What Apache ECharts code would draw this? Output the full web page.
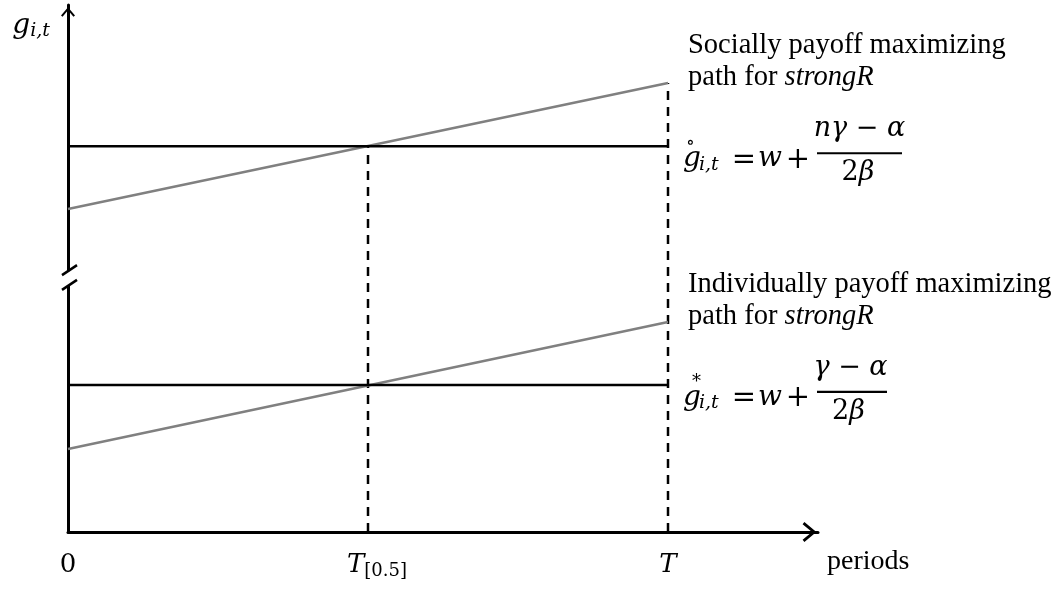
<!DOCTYPE html>
<html><head><meta charset="utf-8">
<script src="https://cdn.jsdelivr.net/npm/echarts@6/dist/echarts.min.js"></script>
<style>html,body{margin:0;padding:0;background:#fff}#c{width:1059px;height:590px}</style>
</head><body><div id="c"></div>
<script>
// ---- data ----
const periodTicks = [0, 0.5, 1];
const periodLabels = ['0', 'T_[0.5]', 'T'];
const pathPeriods = [0, 1];
const socialLevel = [73.2, 73.2];
const socialPath = [61.3, 85.2];
const individualLevel = [27.9, 27.9];
const individualPath = [15.75, 39.85];
const halfMark = [0.5, 0.5];
const halfCut = [0, 73.2];
const endMark = [1, 1];
const endCut = [0, 85.2];
const axisBreak = [46.7, 49.5];
const socialText = ['Socially payoff maximizing', 'path for ', 'strongR'];
const individualText = ['Individually payoff maximizing', 'path for ', 'strongR'];
const socialFormula = ['\u2218', 'n\u03b3 \u2212 \u03b1'];
const individualFormula = ['*', '\u03b3 \u2212 \u03b1'];

const pts = (xs, ys) => xs.map((x, i) => [x, ys[i]]);
const MATH = 'DejaVu Serif';
const SERIF = 'Liberation Serif';
const chevron = 'path://M10,0 L20,12 L17.8,13.8 L10,4.4 L2.2,13.8 L0,12 Z';

const chart = echarts.init(document.getElementById('c'), null, {renderer: 'canvas'});
const lineSeries = (ys, xs, color, dashed) => ({
  type: 'line', data: pts(xs, ys), symbol: 'none', silent: true,
  lineStyle: {color: color, width: 2.5, type: dashed ? [9, 7] : 'solid', cap: 'butt'},
  z: dashed ? 2 : 3
});

chart.setOption({
  animation: false,
  grid: {left: 68, top: 5, width: 750, height: 527, outerBoundsMode: 'none'},
  xAxis: {
    type: 'value', min: 0, max: 1.25,
    splitLine: {show: false}, axisTick: {show: false},
    axisLine: {show: true, onZero: false, lineStyle: {color: '#000', width: 3},
      symbol: ['none', chevron], symbolSize: [20, 17], symbolOffset: [0, -8.5]},
    axisLabel: {
      customValues: periodTicks, margin: 18, color: '#000',
      formatter: v => {
        const s = periodLabels[periodTicks.indexOf(v)];
        if (s === '0') return '{n|0}';
        const parts = s.split('_');
        return parts.length > 1 ? '{t0|' + parts[0] + '}{s|' + parts[1] + '}' : '{t|' + parts[0] + '}';
      },
      rich: {
        n: {fontFamily: MATH, fontSize: 26, lineHeight: 30, color: '#000'},
        t: {fontFamily: MATH, fontStyle: 'italic', fontSize: 26, lineHeight: 30, color: '#000'},
        t0: {fontFamily: MATH, fontStyle: 'italic', fontSize: 26, lineHeight: 30, color: '#000', padding: [0, 0, 0, 18]},
        s: {fontFamily: MATH, fontSize: 18, lineHeight: 18, verticalAlign: 'bottom', color: '#000'}
      }
    },
    name: 'periods', nameLocation: 'end', nameGap: 9,
    nameTextStyle: {fontFamily: SERIF, fontSize: 28, color: '#000', align: 'left', verticalAlign: 'top', padding: [16, 0, 0, 0]}
  },
  yAxis: {
    type: 'value', min: 0, max: 100,
    splitLine: {show: false}, axisTick: {show: false}, axisLabel: {show: false},
    axisLine: {show: true, lineStyle: {color: '#000', width: 3},
      symbol: ['none', chevron], symbolSize: [14, 14], symbolOffset: [0, -7]},
    name: '{g|g}{s|i,t}', nameLocation: 'end', nameGap: -21,
    nameTextStyle: {align: 'right', verticalAlign: 'middle', padding: [0, 18, 0, 0],
      rich: {
        g: {fontFamily: MATH, fontStyle: 'italic', fontSize: 28, lineHeight: 30, color: '#000'},
        s: {fontFamily: MATH, fontStyle: 'italic', fontSize: 19, lineHeight: 18, verticalAlign: 'bottom', color: '#000'}
      }}
  },
  series: [
    lineSeries(socialPath, pathPeriods, '#808080'),
    lineSeries(individualPath, pathPeriods, '#808080'),
    lineSeries(socialLevel, pathPeriods, '#000'),
    lineSeries(individualLevel, pathPeriods, '#000'),
    lineSeries(halfCut, halfMark, '#000', true),
    lineSeries(endCut, endMark, '#000', true)
  ]
});

const px = (x, y) => chart.convertToPixel({xAxisIndex: 0, yAxisIndex: 0}, [x, y]);
const txt = (x, y, str, size, italic, align, family, vAlign) => ({
  type: 'text', x: x, y: y, z: 110, silent: true,
  style: {text: str, fontFamily: family || MATH, fontSize: size, fontStyle: italic ? 'italic' : 'normal',
    fill: '#000', align: align || 'center', verticalAlign: vAlign || 'middle'}
});
function formula(anchor, mark, numer, barL, barR, numCx, denCx, markDx) {
  const X = anchor[0], L = anchor[1];
  const m = 0.346;
  return [
    txt(X + 24, L + 22 - m * 28, 'g', 28, true),
    txt(X + markDx, L - 3, mark, 18, false),
    txt(X + 31, L + 25 - m * 19, 'i,t', 19, true, 'left'),
    txt(X + 76, L + 14, '=', 29, false),
    txt(X + 102, L + 22 - m * 28, 'w', 28, true),
    txt(X + 130, L + 14, '+', 29, false),
    {type: 'line', z: 110, silent: true, shape: {x1: X + barL, y1: L + 7, x2: X + barR, y2: L + 7}, style: {stroke: '#000', lineWidth: 2.2}},
    txt(X + numCx, L - 8 - m * 27, numer, 27, true),
    {type: 'text', x: X + denCx, y: L + 36 - m * 27, z: 110, silent: true,
      style: {text: '{a|2}{b|\u03b2}', align: 'center', verticalAlign: 'middle',
        rich: {a: {fontFamily: MATH, fontSize: 27, fill: '#000'}, b: {fontFamily: MATH, fontSize: 27, fontStyle: 'italic', fill: '#000'}}}}
  ];
}
function caption(anchor, lines) {
  return {type: 'text', x: anchor[0] + 20, y: anchor[1] - 53, z: 110, silent: true,
    style: {text: lines[0] + '\n' + lines[1] + '{i|' + lines[2] + '}', fontFamily: SERIF, fontSize: 28.5, lineHeight: 32,
      fill: '#000', align: 'left', verticalAlign: 'top',
      rich: {i: {fontFamily: SERIF, fontSize: 28.5, lineHeight: 32, fontStyle: 'italic', fill: '#000'}}}};
}

const topL = px(1, socialLevel[1]);
const botL = px(1, individualLevel[1]);
const b1 = px(0, axisBreak[1]);
const b0 = px(0, axisBreak[0]);
const graphics = [
  {type: 'rect', z: 100, silent: true, shape: {x: b1[0] - 5, y: b1[1], width: 10, height: b0[1] - b1[1]}, style: {fill: '#fff'}},
  {type: 'line', z: 101, silent: true, shape: {x1: b1[0] - 6, y1: b1[1] + 4, x2: b1[0] + 9, y2: b1[1] - 6}, style: {stroke: '#000', lineWidth: 2.5}},
  {type: 'line', z: 101, silent: true, shape: {x1: b0[0] - 6, y1: b0[1] + 4, x2: b0[0] + 9, y2: b0[1] - 6}, style: {stroke: '#000', lineWidth: 2.5}},
  caption(px(1, socialPath[1]), socialText),
  caption(px(1, individualPath[1]), individualText)
].concat(
  formula(topL, socialFormula[0], socialFormula[1], 149, 234, 191.5, 190, 22.5),
  formula(botL, individualFormula[0], individualFormula[1], 149, 219, 182.5, 180.5, 28.5)
);
chart.setOption({graphic: graphics});
</script>
</body></html>
